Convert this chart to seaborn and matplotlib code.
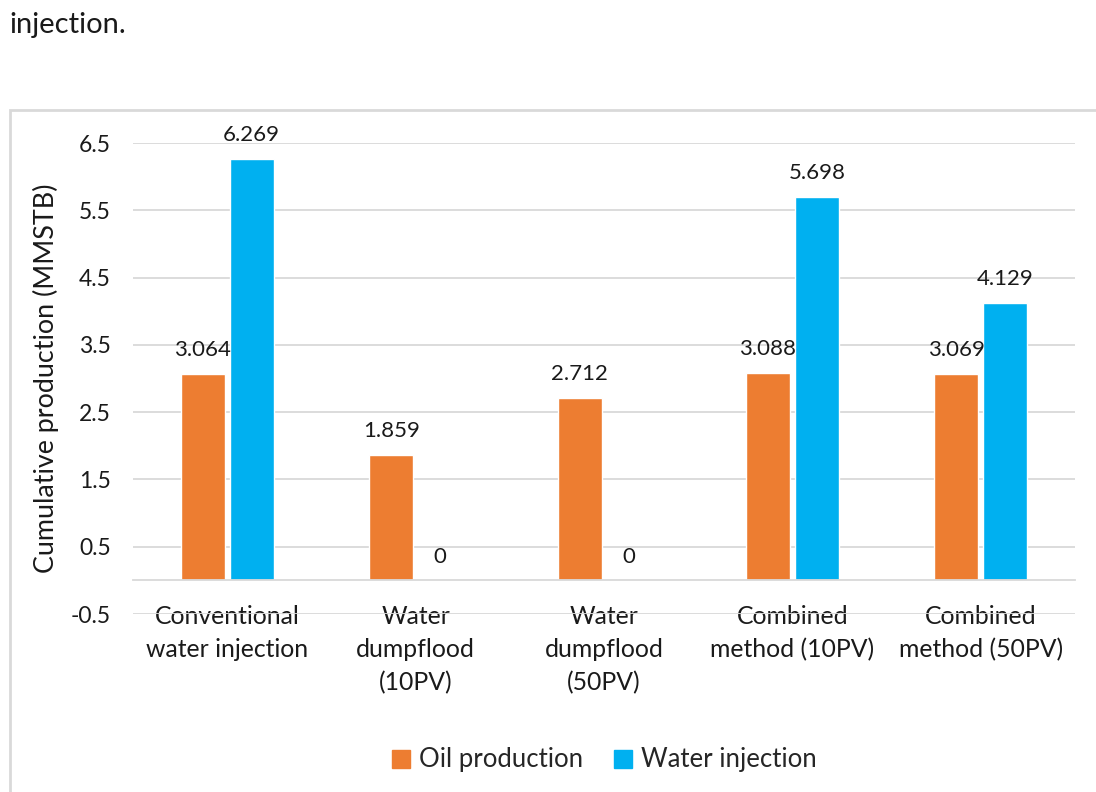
import pandas as pd
import matplotlib.pyplot as plt
import matplotlib.patches as patches
import seaborn as sns

# data
categories = [
    "Conventional\nwater injection",
    "Water\ndumpflood\n(10PV)",
    "Water\ndumpflood\n(50PV)",
    "Combined\nmethod (10PV)",
    "Combined\nmethod (50PV)",
]
oil_production = [3.064, 1.859, 2.712, 3.088, 3.069]
water_injection = [6.269, 0, 0, 5.698, 4.129]
series_names = ["Oil production", "Water injection"]
y_ticks = [-0.5, 0.5, 1.5, 2.5, 3.5, 4.5, 5.5, 6.5]

df = pd.DataFrame({
    "category": categories * 2,
    "series": [series_names[0]] * 5 + [series_names[1]] * 5,
    "value": oil_production + water_injection,
})

sns.set_style("white")
plt.rcParams["font.family"] = ["Lato", "DejaVu Sans"]

fig = plt.figure(figsize=(10.96, 7.92), dpi=100)
ax = fig.add_axes([0.1214, 0.2247, 0.8595, 0.5947])

palette = {"Oil production": "#ED7D31", "Water injection": "#00B0F0"}
sns.barplot(data=df, x="category", y="value", hue="series", palette=palette,
            width=0.52, gap=0.1, ax=ax, legend=False, saturation=1)

for cont in ax.containers:
    ax.bar_label(cont, fmt="{:g}", padding=10, fontsize=16, color="#1a1a1a")

ax.set_ylim(-0.5, 6.5)
ax.set_xlim(-0.5, 4.5)
ax.set_yticks(y_ticks)
ax.set_yticklabels([f"{t:g}" for t in y_ticks])
ax.yaxis.grid(True, color="#D9D9D9", lw=1.3)
ax.set_axisbelow(True)

for s in ["left", "right", "top"]:
    ax.spines[s].set_visible(False)
ax.spines["bottom"].set_position(("data", 0))
ax.spines["bottom"].set_color("#D9D9D9")
ax.spines["bottom"].set_linewidth(1.3)

ax.tick_params(axis="y", length=0, pad=16, labelsize=16.5, labelcolor="#1a1a1a")
ax.tick_params(axis="x", length=0, pad=18, labelsize=17.8, labelcolor="#1a1a1a")
for lbl in ax.get_xticklabels():
    lbl.set_linespacing(1.5)
    lbl.set_verticalalignment("top")

ax.set_xlabel("")
ax.set_ylabel("Cumulative production (MMSTB)", fontsize=19.4, color="#1a1a1a")
ax.yaxis.set_label_coords(-0.079, 0.5)

handles = [patches.Patch(color=palette[n]) for n in series_names]
fig.legend(handles, series_names, loc="center", bbox_to_anchor=(604 / 1096, 1 - 760 / 792),
           ncol=2, frameon=False, fontsize=18.5, handlelength=0.7, handleheight=0.7,
           handletextpad=0.35, columnspacing=1.2)

# chart area border (cropped by the page)
fig.patches.append(patches.Rectangle((10 / 1096, -0.05), 1.2, 1 - 110 / 792 + 0.05,
                                     transform=fig.transFigure, fill=False,
                                     edgecolor="#D9D9D9", lw=2))

fig.text(9 / 1096, 1 - 25 / 792, "injection.", fontsize=21, va="center", ha="left",
         color="#1a1a1a")

fig.savefig("out.png", dpi=100)
